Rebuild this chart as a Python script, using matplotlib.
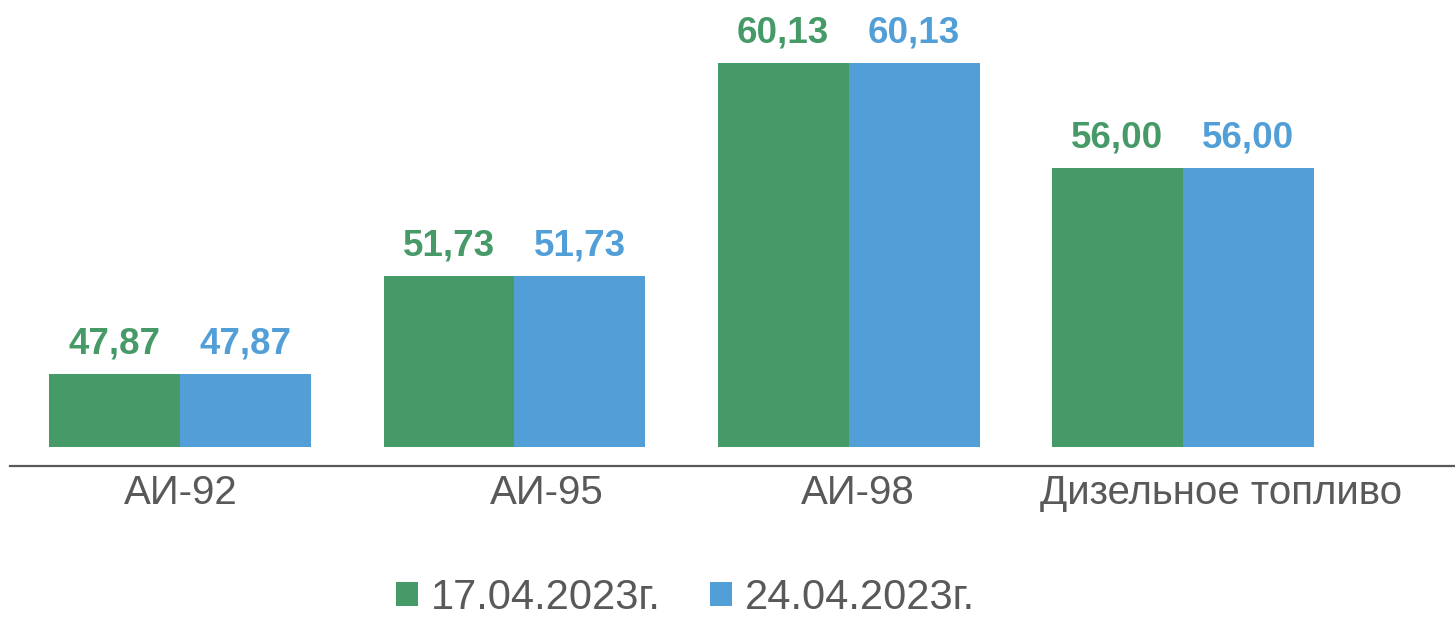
import matplotlib
matplotlib.use("Agg")
import matplotlib.pyplot as plt
from matplotlib.patches import Patch
import numpy as np

categories = ["АИ-92", "АИ-95", "АИ-98", "Дизельное топливо"]
series_names = ["17.04.2023г.", "24.04.2023г."]
values_0417 = [47.87, 51.73, 60.13, 56.00]
values_0424 = [47.87, 51.73, 60.13, 56.00]

# layout / style
colors = ["#459A68", "#529FD7"]
text_gray = "#595959"
label_offsets = [0.0, 0.098, 0.028, 0.114]
bar_w = 0.392
base = 45

plt.rcParams['font.family'] = ['Liberation Sans', 'DejaVu Sans']

fig = plt.figure(figsize=(14.55, 6.17), dpi=100)
ax = fig.add_axes([10 / 1455, (617 - 466) / 617, 1445 / 1455, 466 / 617])

x = np.arange(len(categories))
for i, (vals, col) in enumerate(zip([values_0417, values_0424], colors)):
    xs = x + (i - 0.5) * bar_w
    heights = np.array(vals) - base
    ax.bar(xs, heights, bottom=base, width=bar_w, color=col, edgecolor='none')
    for xi, v in zip(xs, vals):
        ax.annotate(f"{v:.2f}".replace('.', ','), (xi, v), xytext=(0, 15),
                    textcoords='offset points', ha='center', va='baseline',
                    fontsize=26.5, fontweight='bold', color=col)

ax.set_xlim(-0.51, 3.815)
ax.set_ylim(44.25, 62.63)
ax.set_xticks(x + np.array(label_offsets))
ax.set_xticklabels(categories, fontsize=29, color=text_gray)
ax.tick_params(axis='x', length=0, pad=6)
ax.set_yticks([])
for s in ['left', 'right', 'top']:
    ax.spines[s].set_visible(False)
ax.spines['bottom'].set_color(text_gray)
ax.spines['bottom'].set_linewidth(1.6)
ax.patch.set_alpha(0)

handles = [Patch(facecolor=c, edgecolor='none') for c in colors]
fig.legend(handles, series_names, loc='center', bbox_to_anchor=(685.5 / 1455, 1 - 598 / 617),
           ncol=2, frameon=False, fontsize=30, handlelength=0.52, handleheight=0.52,
           handletextpad=0.3, columnspacing=1.2, borderpad=0, labelcolor=text_gray)

fig.savefig("out.png", dpi=100)
